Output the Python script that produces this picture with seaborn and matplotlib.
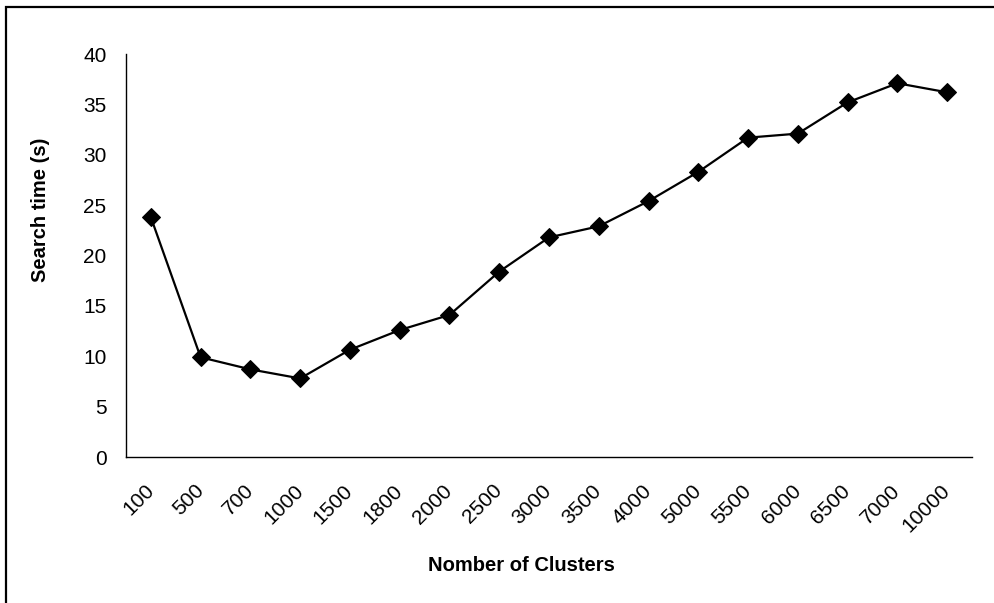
import numpy as np
import pandas as pd
import matplotlib
matplotlib.use("Agg")
import matplotlib.pyplot as plt
import seaborn as sns
from matplotlib.patches import Rectangle

# data
clusters = ["100", "500", "700", "1000", "1500", "1800", "2000", "2500", "3000",
            "3500", "4000", "5000", "5500", "6000", "6500", "7000", "10000"]
search_time = [23.8, 9.9, 8.7, 7.8, 10.65, 12.6, 14.1, 18.4, 21.8,
               22.9, 25.4, 28.3, 31.7, 32.1, 35.2, 37.1, 36.2]
y_ticks = [0, 5, 10, 15, 20, 25, 30, 35, 40]

df = pd.DataFrame({"clusters": clusters, "time": search_time})

sns.set_style("white")
plt.rcParams['font.family'] = ['Liberation Sans', 'DejaVu Sans']
plt.rcParams['text.color'] = 'black'
plt.rcParams['axes.labelcolor'] = 'black'

fig = plt.figure(figsize=(9.95, 6.03), dpi=100)
ax = fig.add_axes([0.1266, 0.2421, 0.8503, 0.6683])

sns.lineplot(data=df, x="clusters", y="time", sort=False, ax=ax,
             color="black", linewidth=1.6, marker="D", markersize=9,
             markeredgecolor="black", markerfacecolor="black")

n = len(clusters)
ax.set_xlim(-0.5, n - 0.5)
ax.set_ylim(0, 40)
ax.set_yticks(y_ticks)
ax.set_yticklabels([str(v) for v in y_ticks], fontsize=15)

# Excel style: tick marks between categories, labels at the centres
ax.set_xticks(np.arange(n + 1) - 0.5)
ax.set_xticklabels([])
ax.set_xticks(np.arange(n), minor=True)
ax.set_xticklabels(clusters, minor=True, rotation=45, ha="right", va="center",
                   rotation_mode="anchor", fontsize=15)
ax.tick_params(axis="x", which="minor", length=0, pad=22, labelcolor="black")
ax.tick_params(axis="x", which="major", length=5, color="#808080", direction="out")
ax.tick_params(axis="y", length=6, color="#808080", direction="out", pad=8,
               labelcolor="black")

for s in ["top", "right"]:
    ax.spines[s].set_visible(False)
for s in ["left", "bottom"]:
    ax.spines[s].set_color("black")
    ax.spines[s].set_linewidth(1.0)

ax.set_xlabel("Nomber of Clusters", fontsize=14.5, fontweight="bold")
ax.set_ylabel("Search time (s)", fontsize=14.5, fontweight="bold")
ax.xaxis.set_label_coords(0.468, -0.2457)
ax.yaxis.set_label_coords(-0.09, 0.613)

# outer chart frame
fig.patches.append(Rectangle((6 / 995, -0.1), 1.2, 1.1 - 7 / 603,
                             transform=fig.transFigure, fill=False,
                             edgecolor="black", linewidth=1.6))

fig.savefig("out.png", dpi=100)
